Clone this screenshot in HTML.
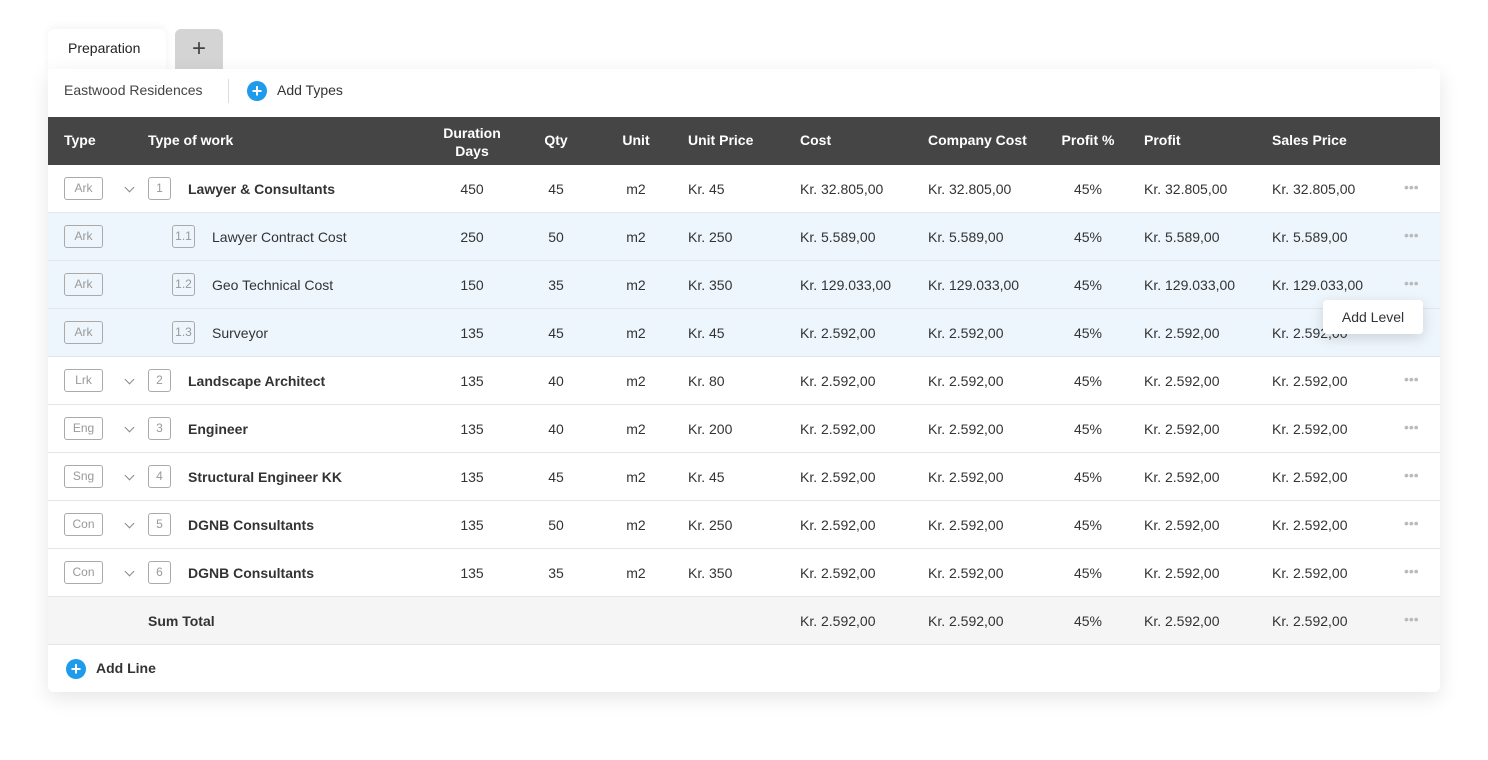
<!DOCTYPE html>
<html><head><style>
*{margin:0;padding:0;box-sizing:border-box}
body{width:1488px;height:760px;background:#fff;font-family:"Liberation Sans",sans-serif;font-size:14px;color:#333;position:relative;overflow:hidden}
.a{position:absolute;white-space:nowrap}
.card{position:absolute;left:48px;top:69px;width:1392px;height:623px;background:#fff;box-shadow:0 6px 20px rgba(0,0,0,.10);border-radius:0 4px 6px 6px}
.row{position:absolute;left:48px;width:1392px;height:48px;border-bottom:1px solid #e6e6e6}
.c{position:absolute;top:0;line-height:48px;white-space:nowrap}
.ctr{transform:translateX(-50%)}
.bd{position:absolute;top:12px;left:16px;width:39px;height:23px;border:1px solid #aaa;border-radius:3px;font-size:12px;color:#999;text-align:center;line-height:21px}
.nb{position:absolute;top:12px;width:23px;height:23px;border:1px solid #aaa;border-radius:3px;font-size:12px;color:#999;text-align:center;line-height:21px}
.chev{position:absolute;top:19px;left:78px;width:7px;height:7px;border-right:1.3px solid #888;border-bottom:1.3px solid #888;transform:rotate(45deg)}
.dots{position:absolute;left:1356px;top:0;line-height:44px;color:#bbb;font-size:14px;letter-spacing:0px}
.h{font-weight:bold;color:#fff}
.b{font-weight:bold}
</style></head><body>
<div class="a" style="left:48px;top:29px;width:118px;height:45px;background:#fff;border-radius:6px 6px 0 0;box-shadow:0 -2px 8px rgba(0,0,0,.05)"></div>
<div class="a" style="left:68px;top:40px;font-size:14px;color:#222">Preparation</div>
<div class="a" style="left:175px;top:29px;width:48px;height:40px;background:#d4d4d4;border-radius:6px 6px 0 0;text-align:center;line-height:40px;font-size:24px;color:#444">+</div>
<div class="card"></div>
<div class="a" style="left:64px;top:82px;color:#444">Eastwood Residences</div>
<div class="a" style="left:228px;top:79px;width:1px;height:24px;background:#ddd"></div>
<div class="a" style="left:247px;top:81px;width:20px;height:20px;border-radius:50%;background:#1f9bec;color:#fff;text-align:center;line-height:20px;font-size:18px;font-weight:bold">+</div>
<div class="a" style="left:277px;top:82px;color:#333">Add Types</div>
<div class="a" style="left:48px;top:117px;width:1392px;height:48px;background:#454545"></div>
<div class="a h" style="left:64px;top:132px">Type</div>
<div class="a h" style="left:148px;top:132px">Type of work</div>
<div class="a h" style="left:472px;top:124px;transform:translateX(-50%);text-align:center;line-height:18px">Duration<br>Days</div>
<div class="a h" style="left:556px;top:132px;transform:translateX(-50%)">Qty</div>
<div class="a h" style="left:636px;top:132px;transform:translateX(-50%)">Unit</div>
<div class="a h" style="left:688px;top:132px">Unit Price</div>
<div class="a h" style="left:800px;top:132px">Cost</div>
<div class="a h" style="left:928px;top:132px">Company Cost</div>
<div class="a h" style="left:1088px;top:132px;transform:translateX(-50%)">Profit %</div>
<div class="a h" style="left:1144px;top:132px">Profit</div>
<div class="a h" style="left:1272px;top:132px">Sales Price</div>

<!-- rows -->
<div class="row" style="top:165px"><div class="bd">Ark</div><div class="chev"></div><div class="nb" style="left:100px">1</div><div class="c b" style="left:140px">Lawyer &amp; Consultants</div><div class="c ctr" style="left:424px">450</div><div class="c ctr" style="left:508px">45</div><div class="c ctr" style="left:588px">m2</div><div class="c" style="left:640px">Kr. 45</div><div class="c" style="left:752px">Kr. 32.805,00</div><div class="c" style="left:880px">Kr. 32.805,00</div><div class="c ctr" style="left:1040px">45%</div><div class="c" style="left:1096px">Kr. 32.805,00</div><div class="c" style="left:1224px">Kr. 32.805,00</div><div class="dots">•••</div></div>
<div class="row" style="top:213px;background:#eef6fd"><div class="bd">Ark</div><div class="nb" style="left:124px">1.1</div><div class="c" style="left:164px">Lawyer Contract Cost</div><div class="c ctr" style="left:424px">250</div><div class="c ctr" style="left:508px">50</div><div class="c ctr" style="left:588px">m2</div><div class="c" style="left:640px">Kr. 250</div><div class="c" style="left:752px">Kr. 5.589,00</div><div class="c" style="left:880px">Kr. 5.589,00</div><div class="c ctr" style="left:1040px">45%</div><div class="c" style="left:1096px">Kr. 5.589,00</div><div class="c" style="left:1224px">Kr. 5.589,00</div><div class="dots">•••</div></div>
<div class="row" style="top:261px;background:#eef6fd"><div class="bd">Ark</div><div class="nb" style="left:124px">1.2</div><div class="c" style="left:164px">Geo Technical Cost</div><div class="c ctr" style="left:424px">150</div><div class="c ctr" style="left:508px">35</div><div class="c ctr" style="left:588px">m2</div><div class="c" style="left:640px">Kr. 350</div><div class="c" style="left:752px">Kr. 129.033,00</div><div class="c" style="left:880px">Kr. 129.033,00</div><div class="c ctr" style="left:1040px">45%</div><div class="c" style="left:1096px">Kr. 129.033,00</div><div class="c" style="left:1224px">Kr. 129.033,00</div><div class="dots">•••</div></div>
<div class="row" style="top:309px;background:#eef6fd"><div class="bd">Ark</div><div class="nb" style="left:124px">1.3</div><div class="c" style="left:164px">Surveyor</div><div class="c ctr" style="left:424px">135</div><div class="c ctr" style="left:508px">45</div><div class="c ctr" style="left:588px">m2</div><div class="c" style="left:640px">Kr. 45</div><div class="c" style="left:752px">Kr. 2.592,00</div><div class="c" style="left:880px">Kr. 2.592,00</div><div class="c ctr" style="left:1040px">45%</div><div class="c" style="left:1096px">Kr. 2.592,00</div><div class="c" style="left:1224px">Kr. 2.592,00</div></div>
<div class="row" style="top:357px"><div class="bd">Lrk</div><div class="chev"></div><div class="nb" style="left:100px">2</div><div class="c b" style="left:140px">Landscape Architect</div><div class="c ctr" style="left:424px">135</div><div class="c ctr" style="left:508px">40</div><div class="c ctr" style="left:588px">m2</div><div class="c" style="left:640px">Kr. 80</div><div class="c" style="left:752px">Kr. 2.592,00</div><div class="c" style="left:880px">Kr. 2.592,00</div><div class="c ctr" style="left:1040px">45%</div><div class="c" style="left:1096px">Kr. 2.592,00</div><div class="c" style="left:1224px">Kr. 2.592,00</div><div class="dots">•••</div></div>
<div class="row" style="top:405px"><div class="bd">Eng</div><div class="chev"></div><div class="nb" style="left:100px">3</div><div class="c b" style="left:140px">Engineer</div><div class="c ctr" style="left:424px">135</div><div class="c ctr" style="left:508px">40</div><div class="c ctr" style="left:588px">m2</div><div class="c" style="left:640px">Kr. 200</div><div class="c" style="left:752px">Kr. 2.592,00</div><div class="c" style="left:880px">Kr. 2.592,00</div><div class="c ctr" style="left:1040px">45%</div><div class="c" style="left:1096px">Kr. 2.592,00</div><div class="c" style="left:1224px">Kr. 2.592,00</div><div class="dots">•••</div></div>
<div class="row" style="top:453px"><div class="bd">Sng</div><div class="chev"></div><div class="nb" style="left:100px">4</div><div class="c b" style="left:140px">Structural Engineer KK</div><div class="c ctr" style="left:424px">135</div><div class="c ctr" style="left:508px">45</div><div class="c ctr" style="left:588px">m2</div><div class="c" style="left:640px">Kr. 45</div><div class="c" style="left:752px">Kr. 2.592,00</div><div class="c" style="left:880px">Kr. 2.592,00</div><div class="c ctr" style="left:1040px">45%</div><div class="c" style="left:1096px">Kr. 2.592,00</div><div class="c" style="left:1224px">Kr. 2.592,00</div><div class="dots">•••</div></div>
<div class="row" style="top:501px"><div class="bd">Con</div><div class="chev"></div><div class="nb" style="left:100px">5</div><div class="c b" style="left:140px">DGNB Consultants</div><div class="c ctr" style="left:424px">135</div><div class="c ctr" style="left:508px">50</div><div class="c ctr" style="left:588px">m2</div><div class="c" style="left:640px">Kr. 250</div><div class="c" style="left:752px">Kr. 2.592,00</div><div class="c" style="left:880px">Kr. 2.592,00</div><div class="c ctr" style="left:1040px">45%</div><div class="c" style="left:1096px">Kr. 2.592,00</div><div class="c" style="left:1224px">Kr. 2.592,00</div><div class="dots">•••</div></div>
<div class="row" style="top:549px"><div class="bd">Con</div><div class="chev"></div><div class="nb" style="left:100px">6</div><div class="c b" style="left:140px">DGNB Consultants</div><div class="c ctr" style="left:424px">135</div><div class="c ctr" style="left:508px">35</div><div class="c ctr" style="left:588px">m2</div><div class="c" style="left:640px">Kr. 350</div><div class="c" style="left:752px">Kr. 2.592,00</div><div class="c" style="left:880px">Kr. 2.592,00</div><div class="c ctr" style="left:1040px">45%</div><div class="c" style="left:1096px">Kr. 2.592,00</div><div class="c" style="left:1224px">Kr. 2.592,00</div><div class="dots">•••</div></div>
<div class="row" style="top:597px;background:#f5f5f5"><div class="c b" style="left:100px">Sum Total</div><div class="c" style="left:752px">Kr. 2.592,00</div><div class="c" style="left:880px">Kr. 2.592,00</div><div class="c ctr" style="left:1040px">45%</div><div class="c" style="left:1096px">Kr. 2.592,00</div><div class="c" style="left:1224px">Kr. 2.592,00</div><div class="dots">•••</div></div>
<div class="a" style="left:66px;top:659px;width:20px;height:20px;border-radius:50%;background:#1f9bec;color:#fff;text-align:center;line-height:20px;font-size:18px;font-weight:bold">+</div>
<div class="a b" style="left:96px;top:660px">Add Line</div>

<div class="a" style="left:1323px;top:300px;width:100px;height:34px;background:#fff;border-radius:4px;box-shadow:0 4px 14px rgba(0,0,0,.15);text-align:center;line-height:34px;color:#333">Add Level</div>
</body></html>
